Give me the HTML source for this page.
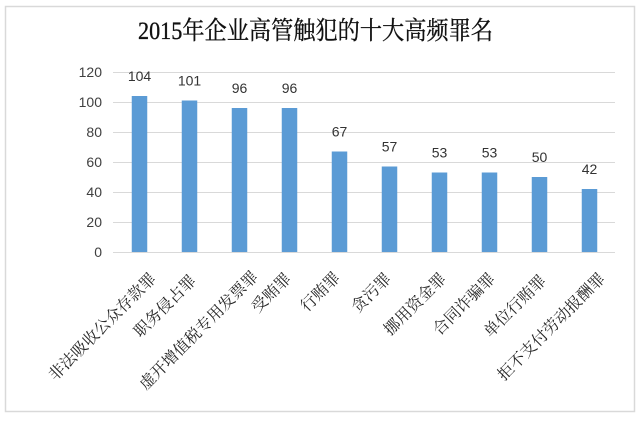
<!DOCTYPE html>
<html>
<head>
<meta charset="utf-8">
<style>
html,body{margin:0;padding:0;background:#fff;}
svg{display:block;}
.t{font-family:"Liberation Serif","Noto Serif CJK SC",serif;}
.n{font-family:"Liberation Sans","Noto Sans CJK SC",sans-serif;}
.c{font-family:"Liberation Serif","Noto Serif CJK SC",serif;font-size:16px;fill:#262626;}
</style>
</head>
<body>
<svg width="640" height="421" viewBox="0 0 640 421" xmlns="http://www.w3.org/2000/svg">
  <rect x="0" y="0" width="640" height="421" fill="#fff"/>
  <rect x="5.5" y="6.5" width="629" height="405" fill="#fff" stroke="#d9d9d9" stroke-width="1.5"/>

  <text class="t" x="138" y="39" font-size="25" fill="#111" stroke="#111" stroke-width="0.35" textLength="355" lengthAdjust="spacingAndGlyphs">2015年企业高管触犯的十大高频罪名</text>

  <!-- gridlines -->
  <g stroke="#d9d9d9" stroke-width="1">
    <line x1="113" y1="72.5" x2="615" y2="72.5"/>
    <line x1="113" y1="102.5" x2="615" y2="102.5"/>
    <line x1="113" y1="132.5" x2="615" y2="132.5"/>
    <line x1="113" y1="162.5" x2="615" y2="162.5"/>
    <line x1="113" y1="192.5" x2="615" y2="192.5"/>
    <line x1="113" y1="222.5" x2="615" y2="222.5"/>
    <line x1="113" y1="252.5" x2="615" y2="252.5"/>
  </g>

  <!-- y labels -->
  <g class="n" font-size="14" fill="#404040" text-anchor="end">
    <text x="102" y="77">120</text>
    <text x="102" y="107">100</text>
    <text x="102" y="137">80</text>
    <text x="102" y="167">60</text>
    <text x="102" y="197">40</text>
    <text x="102" y="227">20</text>
    <text x="102" y="257">0</text>
  </g>

  <!-- bars -->
  <g fill="#5b9bd5">
    <rect x="131.75" y="96" width="15.5" height="156"/>
    <rect x="181.75" y="100.5" width="15.5" height="151.5"/>
    <rect x="231.75" y="108" width="15.5" height="144"/>
    <rect x="281.75" y="108" width="15.5" height="144"/>
    <rect x="331.75" y="151.5" width="15.5" height="100.5"/>
    <rect x="381.75" y="166.5" width="15.5" height="85.5"/>
    <rect x="431.75" y="172.5" width="15.5" height="79.5"/>
    <rect x="481.75" y="172.5" width="15.5" height="79.5"/>
    <rect x="531.75" y="177" width="15.5" height="75"/>
    <rect x="581.75" y="189" width="15.5" height="63"/>
  </g>

  <!-- data labels -->
  <g class="n" font-size="14" fill="#333" text-anchor="middle">
    <text x="139.5" y="81">104</text>
    <text x="189.5" y="85.5">101</text>
    <text x="239.5" y="93">96</text>
    <text x="289.5" y="93">96</text>
    <text x="339.5" y="136.5">67</text>
    <text x="389.5" y="151.5">57</text>
    <text x="439.5" y="157.5">53</text>
    <text x="489.5" y="157.5">53</text>
    <text x="539.5" y="162">50</text>
    <text x="589.5" y="174">42</text>
  </g>

  <!-- category labels -->
  <g class="c" text-anchor="end">
    <text transform="translate(157,279.5) rotate(-45)">非法吸收公众存款罪</text>
    <text transform="translate(197,281.5) rotate(-45)">职务侵占罪</text>
    <text transform="translate(259,277.5) rotate(-45)">虚开增值税专用发票罪</text>
    <text transform="translate(292,279.5) rotate(-45)">受贿罪</text>
    <text transform="translate(341,278.5) rotate(-45)">行贿罪</text>
    <text transform="translate(392,279.5) rotate(-45)">贪污罪</text>
    <text transform="translate(447,279.5) rotate(-45)">挪用资金罪</text>
    <text transform="translate(496,279.5) rotate(-45)">合同诈骗罪</text>
    <text transform="translate(547,281.5) rotate(-45)">单位行贿罪</text>
    <text transform="translate(606,279.5) rotate(-45)">拒不支付劳动报酬罪</text>
  </g>
</svg>
</body>
</html>
